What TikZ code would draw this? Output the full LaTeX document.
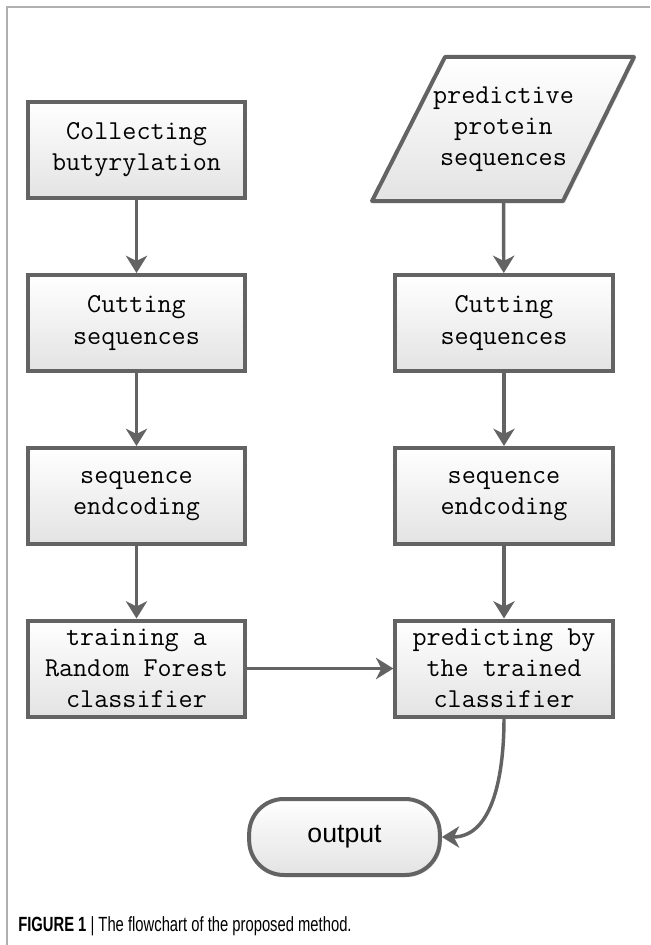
\documentclass[tikz,border=0pt]{standalone}
\usepackage{fontspec}
\newfontfamily\capfont[FakeStretch=0.72]{Liberation Sans}
\newfontfamily\outfont{Liberation Sans}
\usetikzlibrary{arrows.meta,shadows}
\definecolor{edge}{HTML}{636363}
\definecolor{frame}{HTML}{B0B0B0}
\tikzset{
  boxstyle/.style={draw=edge, line width=3pt, top color=white, bottom color=black!11,
    minimum width=163pt, minimum height=72pt, align=center, inner sep=0pt,
    font=\ttfamily\fontsize{20.5}{23.3}\selectfont,
    drop shadow={opacity=0.18, shadow xshift=1.5pt, shadow yshift=-1.5pt}},
  arr/.style={draw=edge, line width=2.6pt, -{Stealth[length=13pt,width=16pt,inset=4pt]}},
}
\begin{document}
\begin{tikzpicture}[x=0.75pt,y=-0.75pt]
\useasboundingbox (0,0) rectangle (650,945);
\draw[frame, line width=1.1pt] (7,945) -- (7,7) -- (650,7);

% left column
\node[boxstyle] (collect) at (136.5,150) {Collecting\\butyrylation};
\node[boxstyle] (cut1) at (136.5,323) {Cutting\\sequences};
\node[boxstyle] (enc1) at (136.5,496) {sequence\\endcoding};
\node[boxstyle] (train) at (136.5,668.5) {training a\\Random Forest\\classifier};

% right column
\path[draw=edge, line width=3pt, line join=round, top color=white, bottom color=black!11,
  drop shadow={opacity=0.18, shadow xshift=1.5pt, shadow yshift=-1.5pt}]
  (445,57) -- (634,57) -- (563,201) -- (372,201) -- cycle;
\node[align=center, inner sep=0pt, minimum height=108pt,
  font=\ttfamily\fontsize{20.5}{23.3}\selectfont] (pred) at (503.5,129)
  {predictive\\protein\\sequences};
\node[boxstyle] (cut2) at (504,323) {Cutting\\sequences};
\node[boxstyle] (enc2) at (504,496) {sequence\\endcoding};
\node[boxstyle] (predict) at (504,668.5) {predicting by\\the trained\\classifier};

% output
\node[draw=edge, line width=3pt, top color=white, bottom color=black!11,
  rounded corners=26pt, minimum width=143pt, minimum height=57pt, inner sep=0pt,
  font=\outfont\fontsize{20}{24}\selectfont,
  drop shadow={opacity=0.18, shadow xshift=1.5pt, shadow yshift=-1.5pt}]
  (out) at (344.5,837) {output};

% connectors
\draw[arr] (collect) -- (cut1);
\draw[arr] (cut1) -- (enc1);
\draw[arr] (enc1) -- (train);
\draw[arr] (pred.south) -- (cut2);
\draw[arr] (cut2) -- (enc2);
\draw[arr] (enc2) -- (predict);
\draw[arr] (train) -- (predict);
\draw[arr] (predict.south) to[out=-90,in=0] (out.east);

% caption
\node[anchor=base west, inner sep=0pt, font=\capfont\fontsize{15.4}{18}\selectfont]
  (cap) at (18,931.5) {\textbf{FIGURE 1} | The flowchart of the proposed method.};
\end{tikzpicture}
\end{document}
